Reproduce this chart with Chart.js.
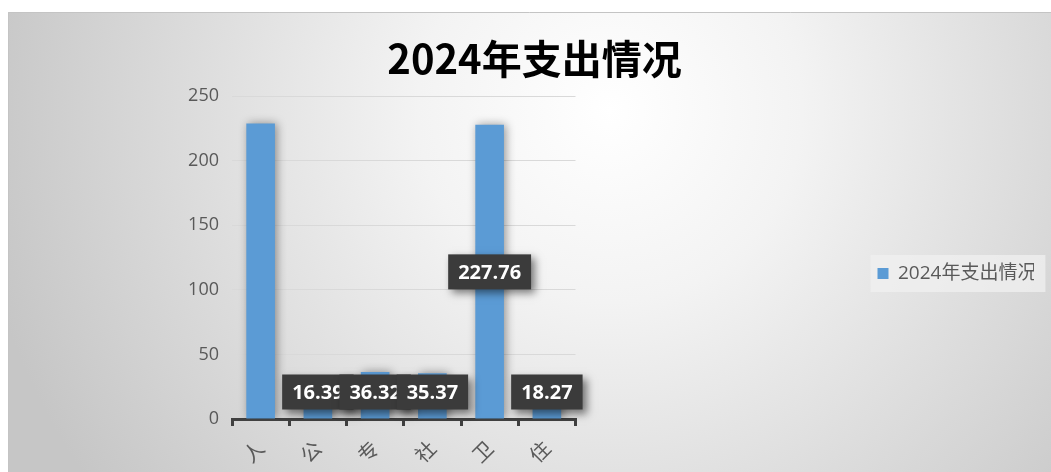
<!DOCTYPE html>
<html>
<head>
<meta charset="utf-8">
<script src="https://cdn.jsdelivr.net/npm/chart.js@4.4.1/dist/chart.umd.min.js"></script>
<style>
  html, body { margin: 0; padding: 0; background: #ffffff; }
  #wrap { width: 1051px; height: 472px; }
</style>
</head>
<body>
<div id="wrap"><canvas id="spendChart" width="1051" height="472"></canvas></div>
<script>
// 2024 spending
const categories = ["人", "公", "专", "社", "卫", "住"];
const spending = [228.8, 16.39, 36.32, 35.37, 227.76, 18.27];
const showLabel = [false, true, true, true, true, true];
const yTicks = [0, 50, 100, 150, 200, 250];
const seriesName = "2024年支出情况";

const barColor = "#5b9bd5";
const textGray = "#595959";

// gray gradient panel behind the chart
const panelBackground = {
    id: "panelBackground",
    beforeDraw(chart) {
        const ctx = chart.ctx;
        ctx.save();
        ctx.fillStyle = "#ffffff";
        ctx.fillRect(0, 0, chart.width, chart.height);
        const g = ctx.createRadialGradient(610, 110, 0, 610, 110, 640);
        g.addColorStop(0, "#ffffff");
        g.addColorStop(0.3, "#f3f3f3");
        g.addColorStop(1, "#c6c6c6");
        ctx.fillStyle = g;
        ctx.fillRect(8, 12, chart.width - 8, chart.height - 12);
        ctx.strokeStyle = "#c4c4c4";
        ctx.lineWidth = 1;
        ctx.beginPath();
        ctx.moveTo(8.5, chart.height);
        ctx.lineTo(8.5, 12.5);
        ctx.lineTo(chart.width, 12.5);
        ctx.stroke();

        // soft box behind the legend
        const lg = chart.legend;
        if (lg && lg.legendHitBoxes && lg.legendHitBoxes.length) {
            const hb = lg.legendHitBoxes[0];
            ctx.fillStyle = "rgba(240,240,240,0.75)";
            ctx.fillRect(hb.left - 7, hb.top - 9, hb.width + 16, hb.height + 18);
        }
        ctx.restore();
    }
};

// soft shadow under the bars
const barShadow = {
    id: "barShadow",
    beforeDatasetsDraw(chart) {
        const ctx = chart.ctx;
        ctx.save();
        ctx.shadowColor = "rgba(0,0,0,0.4)";
        ctx.shadowBlur = 10;
        ctx.shadowOffsetX = 2;
        ctx.shadowOffsetY = 0;
    },
    afterDatasetsDraw(chart) {
        chart.ctx.restore();
    }
};

// dark value boxes in the middle of the bars
const valueBoxes = {
    id: "valueBoxes",
    afterDatasetsDraw(chart) {
        const ctx = chart.ctx;
        const meta = chart.getDatasetMeta(0);
        const yScale = chart.scales.y;
        ctx.save();
        ctx.font = "bold 20px 'Open Sans', 'DejaVu Sans', sans-serif";
        ctx.textAlign = "center";
        ctx.textBaseline = "middle";
        meta.data.forEach((bar, i) => {
            if (!showLabel[i]) return;
            const txt = spending[i].toFixed(2);
            const w = ctx.measureText(txt).width + 20;
            const h = 35;
            const cx = bar.x;
            const cy = Math.min(yScale.getPixelForValue(spending[i] / 2), chart.chartArea.bottom - 27);
            ctx.shadowColor = "rgba(0,0,0,0.5)";
            ctx.shadowBlur = 8;
            ctx.shadowOffsetX = 4;
            ctx.shadowOffsetY = 4;
            ctx.fillStyle = "#3b3b3b";
            ctx.fillRect(cx - w / 2, cy - h / 2, w, h);
            ctx.shadowColor = "transparent";
            ctx.fillStyle = "#ffffff";
            ctx.fillText(txt, cx, cy + 1);
        });
        ctx.restore();
    }
};

const chartCanvas = document.getElementById("spendChart").getContext("2d");

new Chart(chartCanvas, {
    type: "bar",
    data: {
        labels: categories,
        datasets: [{
            label: seriesName,
            data: spending,
            backgroundColor: barColor,
            borderWidth: 0,
            barPercentage: 0.5,
            categoryPercentage: 1
        }]
    },
    options: {
        responsive: false,
        animation: false,
        layout: { padding: { left: 35, right: 17, top: 12, bottom: 0 } },
        plugins: {
            title: {
                display: true,
                text: seriesName,
                color: "#000000",
                font: { family: "'Noto Sans CJK SC', sans-serif", size: 40, weight: "bold", lineHeight: 1.2 },
                padding: { top: 23, bottom: 13 }
            },
            legend: {
                position: "right",
                fullSize: false,
                title: { display: true, text: "", padding: 0, font: { size: 32, lineHeight: 1 } },
                labels: {
                    boxWidth: 11,
                    boxHeight: 11,
                    padding: 10,
                    color: textGray,
                    font: { family: "'Open Sans', 'Noto Sans CJK SC', sans-serif", size: 19 }
                }
            },
            tooltip: { enabled: false }
        },
        scales: {
            x: {
                afterFit(scale) { scale.height = 53; },
                border: { display: true, color: "#404040", width: 3 },
                grid: {
                    offset: true,
                    drawOnChartArea: false,
                    tickLength: 7,
                    color: "#404040",
                    lineWidth: 3
                },
                ticks: {
                    autoSkip: false,
                    minRotation: 45,
                    maxRotation: 45,
                    padding: 10,
                    color: textGray,
                    font: { family: "'Noto Sans CJK SC', sans-serif", size: 20 }
                }
            },
            y: {
                min: 0,
                max: 250,
                afterFit(scale) { scale.width = 197; },
                afterBuildTicks(scale) { scale.ticks = yTicks.map(v => ({ value: v })); },
                border: { display: false },
                grid: { color: "#d9d9d9", lineWidth: 1, drawTicks: false },
                ticks: {
                    padding: 13,
                    color: textGray,
                    font: { family: "'Open Sans', sans-serif", size: 18 }
                }
            },
            // empty right-hand axis that keeps the plot narrow, as in the original
            gap: {
                type: "linear",
                position: "right",
                display: true,
                afterFit(scale) { scale.width = 292; },
                border: { display: false },
                grid: { display: false },
                ticks: { display: false }
            }
        }
    },
    plugins: [panelBackground, barShadow, valueBoxes]
});
</script>
</body>
</html>
